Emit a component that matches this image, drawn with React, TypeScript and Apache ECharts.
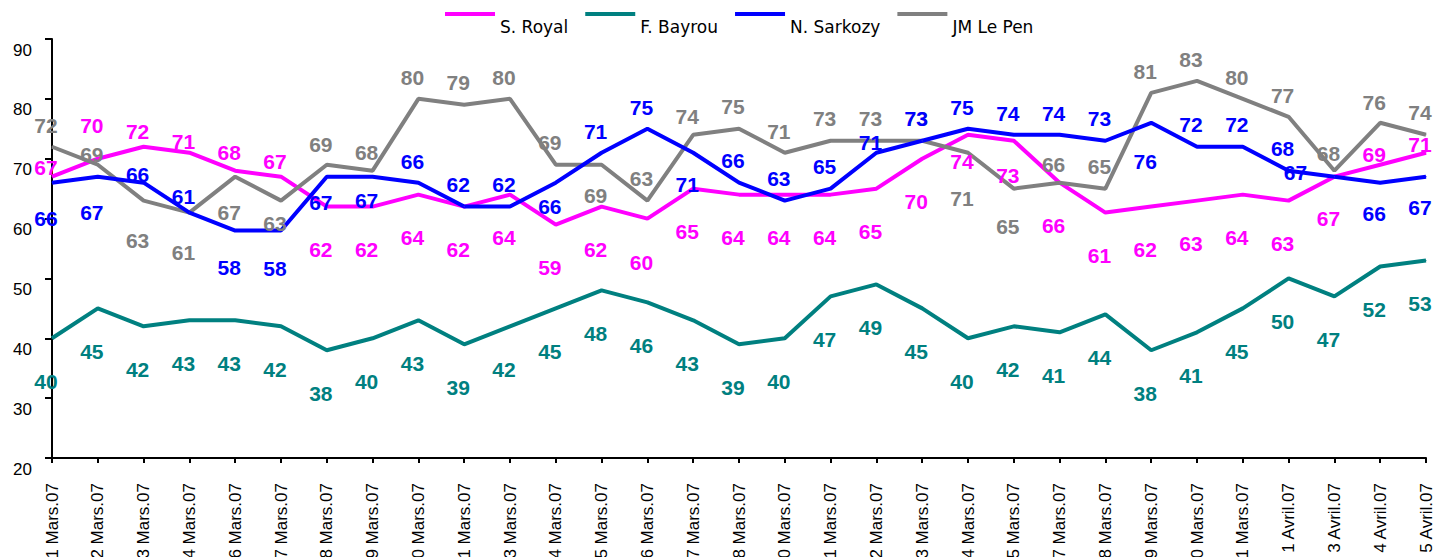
import React, { useEffect, useRef } from "react";
import * as echarts from "echarts";

const categories = [
  "1 Mars.07", "2 Mars.07", "3 Mars.07", "4 Mars.07", "6 Mars.07", "7 Mars.07", "8 Mars.07",
  "9 Mars.07", "10 Mars.07", "11 Mars.07", "13 Mars.07", "14 Mars.07", "15 Mars.07", "16 Mars.07",
  "17 Mars.07", "18 Mars.07", "20 Mars.07", "21 Mars.07", "22 Mars.07", "23 Mars.07", "24 Mars.07",
  "25 Mars.07", "27 Mars.07", "28 Mars.07", "29 Mars.07", "30 Mars.07", "31 Mars.07", "1 Avril.07",
  "3 Avril.07", "4 Avril.07", "5 Avril.07",
];

const royal = [67, 70, 72, 71, 68, 67, 62, 62, 64, 62, 64, 59, 62, 60, 65, 64, 64, 64, 65, 70, 74, 73, 66, 61, 62, 63, 64, 63, 67, 69, 71];
const bayrou = [40, 45, 42, 43, 43, 42, 38, 40, 43, 39, 42, 45, 48, 46, 43, 39, 40, 47, 49, 45, 40, 42, 41, 44, 38, 41, 45, 50, 47, 52, 53];
const sarkozy = [66, 67, 66, 61, 58, 58, 67, 67, 66, 62, 62, 66, 71, 75, 71, 66, 63, 65, 71, 73, 75, 74, 74, 73, 76, 72, 72, 68, 67, 66, 67];
const lepen = [72, 69, 63, 61, 67, 63, 69, 68, 80, 79, 80, 69, 69, 63, 74, 75, 71, 73, 73, 73, 71, 65, 66, 65, 81, 83, 80, 77, 68, 76, 74];

const yTicks = { min: 20, max: 90, interval: 10 };

// label placement (pixel offsets of each data label from its point)
const royalLabelDy = [-9, -33, -15, -11, -18, -15, 43, 43, 43, 43, 43, 43, 43, 44, 43, 43, 43, 43, 43, 43, 27, 35, 43, 43, 43, 43, 43, 43, 42, -10, -8];
const bayrouLabelDy = bayrou.map(() => 43);
const sarkozyLabelDy = [36, 36, -8, -16, 37, 38, 26, 24, -21, -22, -22, 24, -21, -21, 32, -22, -22, -22, -10, -22, -21, -21, -21, -22, 39, -22, -22, -22, -4, 31, 31];
const sarkozyLabelDx = sarkozy.map((_, i) => (i === 28 ? -39 : -6));
const lepenLabelDy = [-21, -10, 40, 40, 36, 23, -20, -18, -21, -22, -21, -22, 31, -22, -18, -22, -21, -22, -22, -22, 46, 38, -18, -22, -21, -21, -21, -21, -17, -20, -22];

const COLORS = {
  royal: "#FF00FF",
  bayrou: "#008080",
  sarkozy: "#0000FF",
  lepen: "#808080",
};

function makeData(vals: number[], dys: number[], dxs?: number[]) {
  return vals.map((v, i) => ({
    value: v,
    label: { offset: [dxs ? dxs[i] : -6, dys[i]] },
  }));
}

function makeSeries(name: string, color: string, data: any[]) {
  return {
    name,
    type: "line",
    data,
    symbol: "circle",
    symbolSize: 1,
    showSymbol: true,
    itemStyle: { color },
    lineStyle: { color, width: 4 },
    label: {
      show: true,
      position: "inside",
      color,
      fontFamily: "Liberation Sans",
      fontWeight: "bold",
      fontSize: 21,
    },
    emphasis: { disabled: true },
  };
}

export default function App() {
  const ref = useRef<HTMLDivElement>(null);

  useEffect(() => {
    if (!ref.current) return;
    const chart = echarts.init(ref.current, null, { renderer: "svg" });
    chart.setOption({
      animation: false,
      backgroundColor: "#ffffff",
      grid: {
        left: 52,
        right: 12,
        top: 39,
        bottom: 99,
        containLabel: false,
        outerBoundsMode: "none",
      },
      legend: {
        data: ["S. Royal", "F. Bayrou", "N. Sarkozy", "JM Le Pen"],
        left: 445,
        top: -12,
        padding: 0,
        icon: "rect",
        itemWidth: 50,
        itemHeight: 4,
        itemGap: 17,
        selectedMode: false,
        formatter: (name: string) => "\n" + name,
        textStyle: {
          fontFamily: "DejaVu Sans",
          fontSize: 17,
          lineHeight: 26,
          color: "#000",
        },
      },
      xAxis: {
        type: "category",
        data: categories,
        boundaryGap: false,
        axisLine: { lineStyle: { color: "#000", width: 2 } },
        axisTick: { show: true, length: 5, interval: 0, lineStyle: { color: "#000", width: 2 } },
        axisLabel: {
          interval: 0,
          rotate: 90,
          margin: 25,
          fontFamily: "Liberation Sans",
          fontSize: 17,
          color: "#000",
        },
        splitLine: { show: false },
      },
      yAxis: {
        type: "value",
        min: yTicks.min,
        max: yTicks.max,
        interval: yTicks.interval,
        axisLine: { show: true, lineStyle: { color: "#000", width: 2 } },
        axisTick: { show: true, length: 7, lineStyle: { color: "#000", width: 2 } },
        axisLabel: {
          margin: 20,
          fontFamily: "Liberation Sans",
          fontSize: 17,
          color: "#000",
          verticalAlign: "top",
          lineHeight: 22,
        },
        splitLine: { show: false },
      },
      series: [
        makeSeries("S. Royal", COLORS.royal, makeData(royal, royalLabelDy)),
        makeSeries("F. Bayrou", COLORS.bayrou, makeData(bayrou, bayrouLabelDy)),
        makeSeries("JM Le Pen", COLORS.lepen, makeData(lepen, lepenLabelDy)),
        makeSeries("N. Sarkozy", COLORS.sarkozy, makeData(sarkozy, sarkozyLabelDy, sarkozyLabelDx)),
      ],
    });
    return () => chart.dispose();
  }, []);

  return (
    <div
      ref={ref}
      style={{ position: "absolute", left: 0, top: 0, width: 1438, height: 557 }}
    />
  );
}
